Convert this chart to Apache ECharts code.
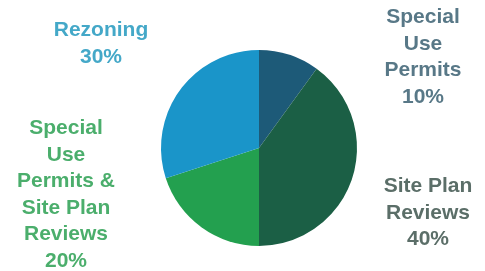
<!DOCTYPE html>
<html>
<head>
<meta charset="utf-8">
<script src="https://cdn.jsdelivr.net/npm/echarts@6/dist/echarts.min.js"></script>
<style>
    * { margin: 0; padding: 0; }
    html, body { width: 485px; height: 271px; background: #fff; }
    #main { width: 485px; height: 271px; }
</style>
</head>
<body>
<div id="main"></div>
<script>
    // slices, clockwise from 12 o'clock
    let names = ['Special Use Permits', 'Site Plan Reviews', 'Special Use Permits & Site Plan Reviews', 'Rezoning']
    let values = [10, 40, 20, 30]
    let labelText = ['Special\nUse\nPermits', 'Site Plan\nReviews', 'Special\nUse\nPermits &\nSite Plan\nReviews', 'Rezoning']

    let sliceColors = ['#1d5a78', '#1b5f45', '#23a04f', '#1a95c9']
    let labelColors = ['#587887', '#5b6e68', '#4bae6c', '#44a8c8']
    // label centre (x, top y) for each slice
    let labelPos = [[423, 4], [428, 173], [66, 115], [101, 17]]

    let myChart = echarts.init(document.getElementById('main'))
    let option = {
        animation: false,
        series: [
            {
                type: 'pie',
                center: [259, 148],
                radius: [0, 98],
                startAngle: 90,
                clockwise: true,
                labelLine: { show: false },
                label: {
                    show: true,
                    fontFamily: 'Liberation Sans',
                    fontWeight: 'bold',
                    fontSize: 21,
                    lineHeight: 26.5,
                    align: 'center',
                    overflow: 'none',
                    formatter: function (p) {
                        return labelText[p.dataIndex] + '\n' + p.value + '%'
                    }
                },
                labelLayout: function (p) {
                    return {
                        x: labelPos[p.dataIndex][0],
                        y: labelPos[p.dataIndex][1],
                        align: 'center',
                        verticalAlign: 'top',
                        hideOverlap: false
                    }
                },
                data: names.map(function (n, i) {
                    return {
                        name: n,
                        value: values[i],
                        itemStyle: { color: sliceColors[i] },
                        label: { color: labelColors[i] }
                    }
                })
            }
        ]
    };
    myChart.setOption(option)
</script>
</body>
</html>
